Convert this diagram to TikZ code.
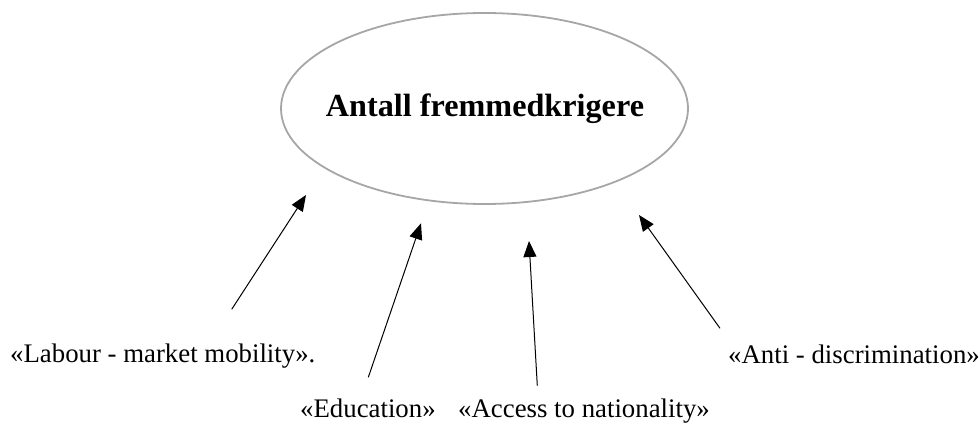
\documentclass[tikz,border=0pt]{standalone}
\usepackage{fontspec}
\setmainfont{Liberation Serif}
\usetikzlibrary{arrows.meta,shapes.geometric}
\definecolor{ellgray}{RGB}{166,166,166}
\begin{document}
\begin{tikzpicture}[x=1pt,y=-1pt,
  lbl/.style={anchor=base west,inner sep=0pt,font=\fontsize{26.8}{30}\selectfont},
  conn/.style={line width=1pt,-{Triangle[length=16pt,width=13pt]}}]
\useasboundingbox (0,0) rectangle (979,425);
\node[draw=ellgray,line width=1.8pt,ellipse,minimum width=407pt,minimum height=191pt,inner sep=0pt] (main) at (484.5,108.5) {};
\node[anchor=base,inner sep=0pt,font=\fontsize{32.2}{36}\selectfont\bfseries] (title) at (485,117) {Antall fremmedkrigere};
\node[lbl] (labour) at (10,362) {«Labour - market mobility».};
\node[lbl] (edu) at (300,417.5) {«Education»};
\node[lbl] (access) at (458,417.5) {«Access to nationality»};
\node[lbl] (anti) at (728,363) {«Anti - discrimination»};
\coordinate (t1) at (231.7,309.3);
\coordinate (h1) at (306,195);
\coordinate (t2) at (368.3,377.3);
\coordinate (h2) at (421,223.3);
\coordinate (t3) at (537.3,385.7);
\coordinate (h3) at (529,241);
\coordinate (t4) at (720,328.3);
\coordinate (h4) at (639,215);
\draw[conn] (t1) -- (h1);
\draw[conn] (t2) -- (h2);
\draw[conn] (t3) -- (h3);
\draw[conn] (t4) -- (h4);
\end{tikzpicture}
\end{document}
